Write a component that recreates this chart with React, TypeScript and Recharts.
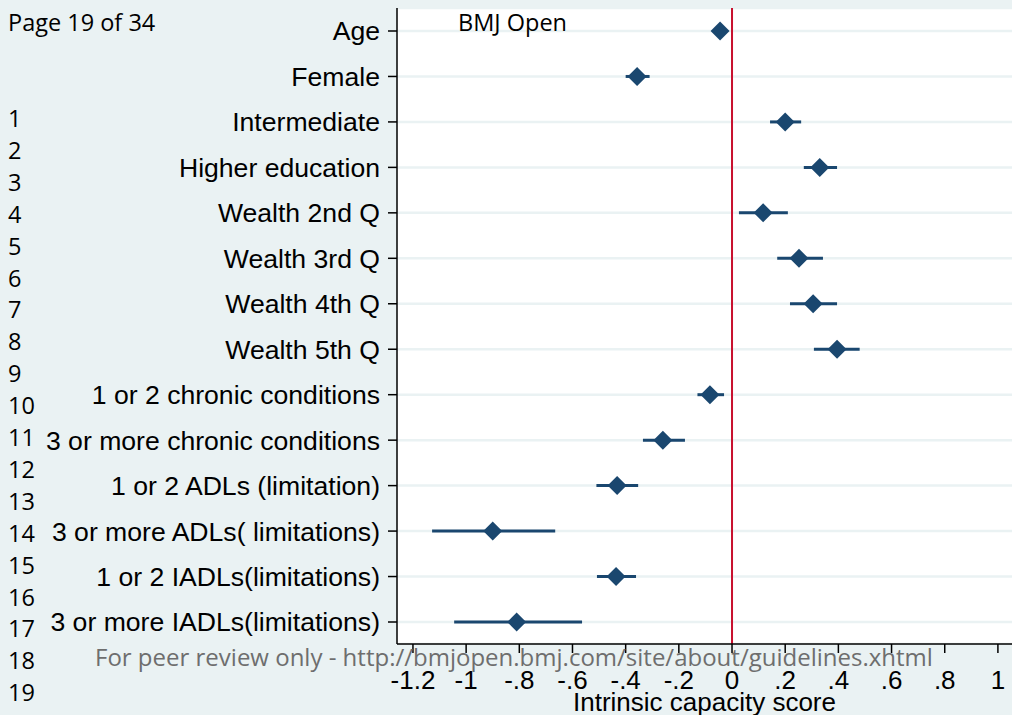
import {
  ComposedChart,
  Scatter,
  ErrorBar,
  XAxis,
  YAxis,
  CartesianGrid,
  ReferenceLine,
} from "recharts";

const CATEGORIES = [
  "Age",
  "Female",
  "Intermediate",
  "Higher education",
  "Wealth 2nd Q",
  "Wealth 3rd Q",
  "Wealth 4th Q",
  "Wealth 5th Q",
  "1 or 2 chronic conditions",
  "3 or more chronic conditions",
  "1 or 2 ADLs (limitation)",
  "3 or more ADLs( limitations)",
  "1 or 2 IADLs(limitations)",
  "3 or more IADLs(limitations)",
];

const ESTIMATES = [
  -0.045, -0.357, 0.2, 0.33, 0.117, 0.252, 0.305, 0.395, -0.083, -0.26,
  -0.432, -0.9, -0.436, -0.81,
];
const LOWER = [
  -0.055, -0.4, 0.143, 0.27, 0.026, 0.17, 0.218, 0.308, -0.13, -0.335,
  -0.51, -1.128, -0.508, -1.045,
];
const UPPER = [
  -0.035, -0.31, 0.26, 0.395, 0.21, 0.342, 0.395, 0.48, -0.03, -0.177,
  -0.353, -0.665, -0.361, -0.564,
];

const X_TICKS = [-1.2, -1, -0.8, -0.6, -0.4, -0.2, 0, 0.2, 0.4, 0.6, 0.8, 1];
const LINE_NUMBERS = [
  1, 2, 3, 4, 5, 6, 7, 8, 9, 10, 11, 12, 13, 14, 15, 16, 17, 18, 19,
];

const NAVY = "#1a476f";
const BG = "#eaf2f3";
const CHART_FONT = "'Liberation Sans', Arial, sans-serif";
const PAGE_FONT = "'Open Sans', 'Noto Sans', sans-serif";

const data = CATEGORIES.map((name, i) => ({
  name,
  est: ESTIMATES[i],
  err: [ESTIMATES[i] - LOWER[i], UPPER[i] - ESTIMATES[i]],
}));

// Stata style: "-.8", ".2", "0"
function fmtTick(v: number): string {
  const s = String(Math.round(v * 10) / 10);
  return s.replace(/^(-?)0\./, "$1.");
}

function Diamond(props: any) {
  const { cx, cy } = props;
  const r = 9.5;
  return (
    <polygon
      points={`${cx},${cy - r} ${cx + r},${cy} ${cx},${cy + r} ${cx - r},${cy}`}
      fill={NAVY}
    />
  );
}

const pageText = {
  position: "absolute" as const,
  fontFamily: PAGE_FONT,
  fontSize: 23.5,
  color: "#000",
  whiteSpace: "nowrap" as const,
  lineHeight: "32px",
};

export default function App() {
  return (
    <div
      style={{
        position: "absolute",
        left: 0,
        top: 0,
        width: 1012,
        height: 715,
        background: BG,
        overflow: "hidden",
      }}
    >
      <ComposedChart
        width={1012}
        height={715}
        data={data}
        layout="vertical"
        margin={{ top: 8, right: 0, bottom: 0, left: 0 }}
      >
        <CartesianGrid
          horizontal
          vertical={false}
          fill="#ffffff"
          stroke={BG}
          strokeWidth={2.5}
        />
        <XAxis
          type="number"
          dataKey="est"
          domain={[-1.26, 1.053]}
          ticks={X_TICKS}
          tickFormatter={fmtTick}
          allowDataOverflow
          height={71}
          tickSize={9}
          tickMargin={18}
          axisLine={{ stroke: "#000", strokeWidth: 1.5 }}
          tickLine={{ stroke: "#000", strokeWidth: 1.5 }}
          tick={{ fill: "#000", fontSize: 26, fontFamily: CHART_FONT }}
          label={{
            value: "Intrinsic capacity score",
            position: "insideBottom",
            offset: 4,
            fill: "#000",
            fontSize: 26,
            fontFamily: CHART_FONT,
          }}
        />
        <YAxis
          type="category"
          dataKey="name"
          width={397}
          padding={{ top: 23, bottom: 22 }}
          tickSize={9}
          tickMargin={8}
          interval={0}
          axisLine={{ stroke: "#000", strokeWidth: 1.5 }}
          tickLine={{ stroke: "#000", strokeWidth: 1.5 }}
          tick={{ fill: "#000", fontSize: 26.6, fontFamily: CHART_FONT }}
        />
        <ReferenceLine x={0} stroke="#c8102e" strokeWidth={2} />
        <Scatter dataKey="est" shape={Diamond} isAnimationActive={false}>
          <ErrorBar
            dataKey="err"
            direction="x"
            width={0}
            stroke={NAVY}
            strokeWidth={3}
          />
        </Scatter>
      </ComposedChart>

      <div style={{ ...pageText, left: 8, top: 6 }}>Page 19 of 34</div>
      <div style={{ ...pageText, left: 458, top: 6 }}>BMJ Open</div>
      {LINE_NUMBERS.map((n, i) => (
        <div key={n} style={{ ...pageText, left: 8, top: 102 + i * 31.9 }}>
          {n}
        </div>
      ))}
      <div
        style={{
          ...pageText,
          left: 95,
          top: 641,
          fontSize: 24,
          color: "#6e6e6e",
        }}
      >
        For peer review only - http://bmjopen.bmj.com/site/about/guidelines.xhtml
      </div>
    </div>
  );
}
